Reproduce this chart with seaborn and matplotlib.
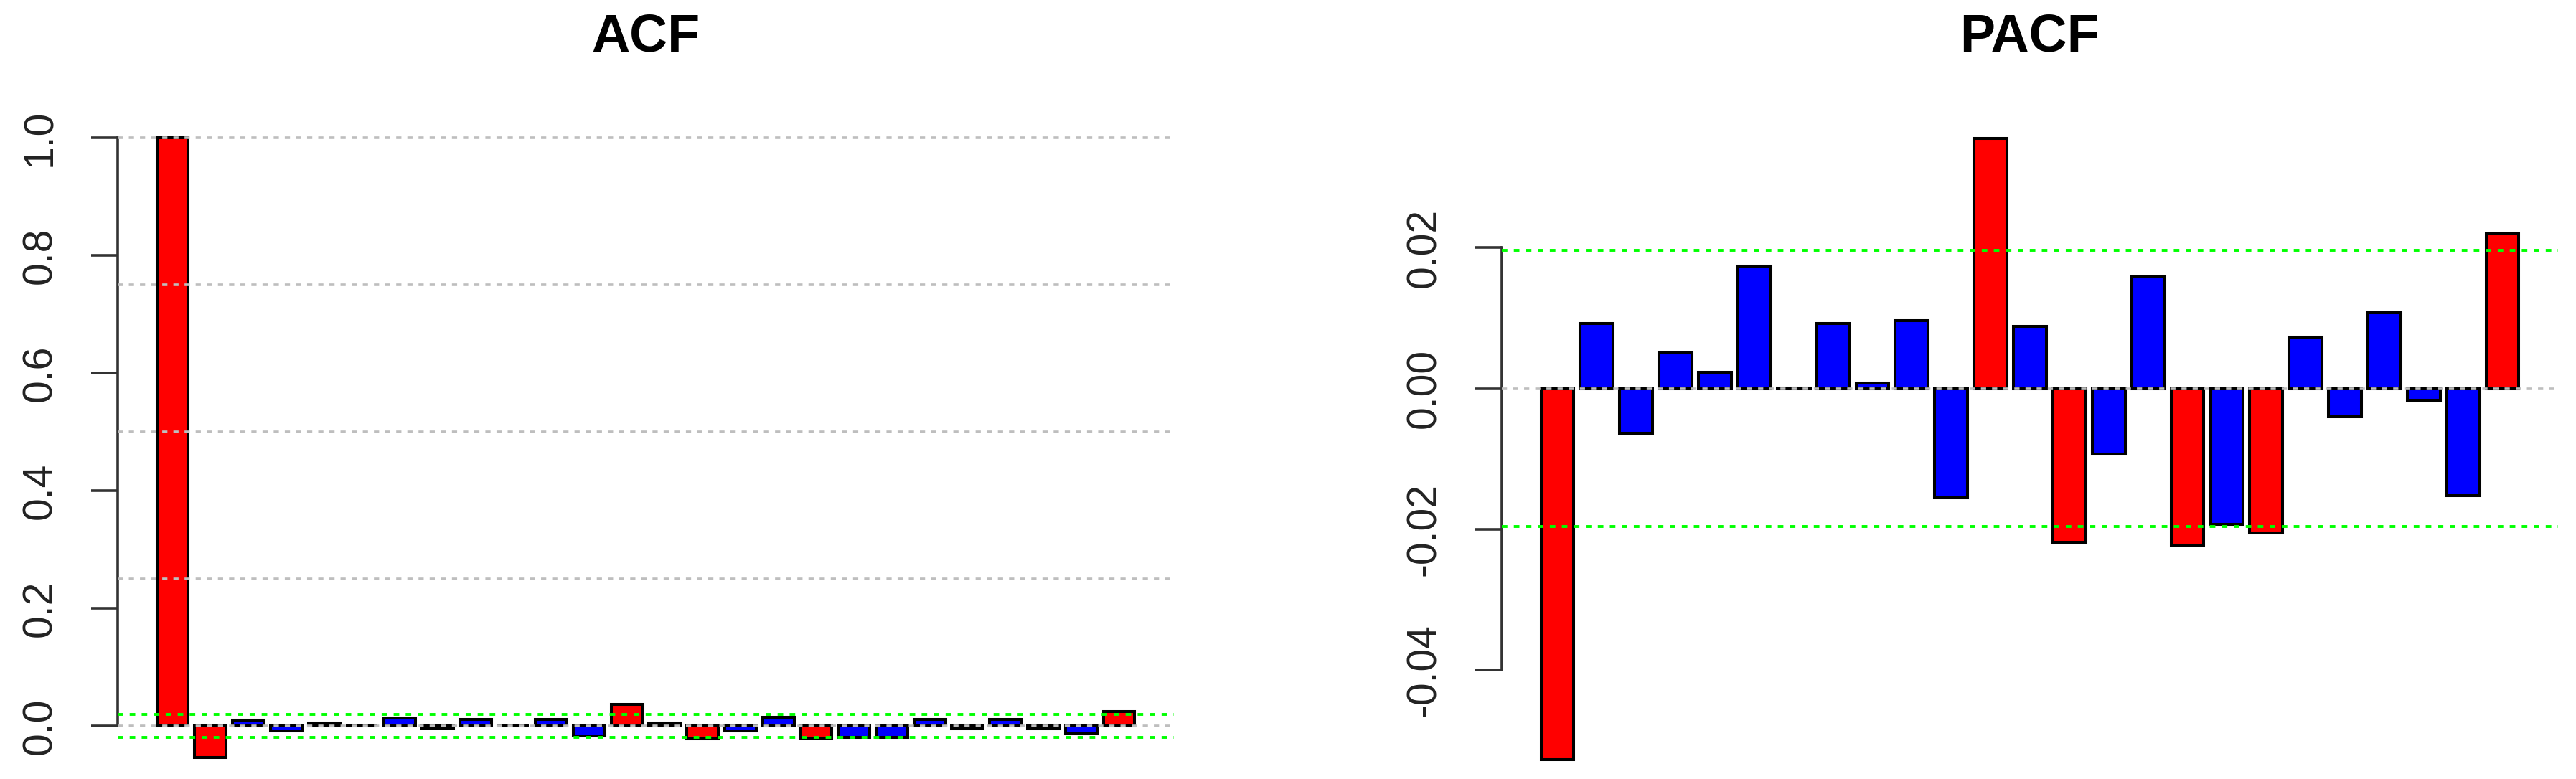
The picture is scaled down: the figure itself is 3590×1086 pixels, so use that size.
import matplotlib
matplotlib.use("Agg")
import matplotlib.pyplot as plt
import seaborn as sns
import numpy as np
import pandas as pd

# autocorrelations (series length ~ 10000)
acf_lags = list(range(0, 26))
acf_values = [1.0, -0.054, 0.010, -0.008, 0.005, 0.0, 0.014, -0.004, 0.011, 0.0,
              0.011, -0.017, 0.037, 0.005, -0.022, -0.009, 0.015, -0.021, -0.019,
              -0.019, 0.011, -0.005, 0.011, -0.005, -0.013, 0.024]

pacf_lags = list(range(1, 26))
pacf_values = [-0.0527, 0.0093, -0.0063, 0.0051, 0.0023, 0.0174, 0.0001, 0.0093,
               0.0008, 0.0097, -0.0155, 0.0355, 0.0088, -0.0218, -0.0093, 0.0159,
               -0.0222, -0.0193, -0.0205, 0.0073, -0.0040, 0.0108, -0.0016,
               -0.0152, 0.0220]

n_obs = 10000
conf = 1.96 / np.sqrt(n_obs)

acf_ticks = [0.0, 0.2, 0.4, 0.6, 0.8, 1.0]
acf_tick_labels = ["0.0", "0.2", "0.4", "0.6", "0.8", "1.0"]
acf_grid = [0.0, 0.25, 0.5, 0.75, 1.0]

pacf_ticks = [-0.04, -0.02, 0.0, 0.02]
pacf_tick_labels = ["-0.04", "-0.02", "0.00", "0.02"]
pacf_grid = [0.0]

W, H = 3590, 1086

sns.set_style("white")
plt.rcParams["font.family"] = ["Liberation Sans", "DejaVu Sans"]

fig = plt.figure(figsize=(W / 100, H / 100), dpi=100)


def draw_panel(left_px, lags, values, ylim, ticks, tick_labels, grid, title):
    plot_w = 1472
    top_px = 158
    ax = fig.add_axes([left_px / W, 0, plot_w / W, (H - top_px) / H])

    df = pd.DataFrame({"lag": lags, "value": values})
    df["sig"] = np.where(np.abs(df["value"]) > conf, "sig", "ns")

    sns.barplot(data=df, x="lag", y="value", hue="sig", order=lags,
                palette={"sig": "#FF0000", "ns": "#0000FF"}, dodge=False,
                width=1 / 1.2, saturation=1, edgecolor="black", linewidth=2.9,
                errorbar=None, legend=False, ax=ax, zorder=2)

    # R barplot style x range: bars of width 1 with space 0.2, 4% padding
    n = len(lags)
    span = 1.2 * n - 0.2
    lo, hi = 0.2 - 0.04 * span, 1.2 * n + 0.04 * span
    ax.set_xlim((lo - 0.7) / 1.2, (hi - 0.7) / 1.2)
    ax.set_ylim(*ylim)

    for g in grid:
        ax.axhline(g, color="#BEBEBE", lw=2.6, ls=(0, (2, 2.3)), zorder=3)
    for c in (conf, -conf):
        ax.axhline(c, color="#00FF00", lw=2.8, ls=(0, (2, 2.3)), zorder=3)

    for s in ("top", "right", "bottom"):
        ax.spines[s].set_visible(False)
    ax.spines["left"].set_bounds(ticks[0], ticks[-1])
    ax.spines["left"].set_color("#333333")
    ax.spines["left"].set_linewidth(2.6)

    ax.set_xticks([])
    ax.set_xlabel("")
    ax.set_ylabel("")
    ax.set_yticks(ticks)
    ax.set_yticklabels(tick_labels)
    ax.tick_params(axis="y", direction="out", length=27, width=2.6,
                   color="#333333", labelsize=41, labelcolor="#222222",
                   pad=31, left=True, labelrotation=90)
    for lab in ax.get_yticklabels():
        lab.set_va("center")
    ax.grid(False)
    ax.set_facecolor("none")

    fig.text((left_px + plot_w / 2) / W, 1 - 52 / H, title, ha="center",
             va="center", fontsize=53, fontweight="bold", color="black")
    return ax


# pixel-based limits so zero lines and ticks land where the original has them
acf_zero, acf_unit = 1012, 820
pacf_zero, pacf_unit = 541.8, 9815
acf_ylim = (-(H - acf_zero) / acf_unit, (acf_zero - 158) / acf_unit)
pacf_ylim = (-(H - pacf_zero) / pacf_unit, (pacf_zero - 158) / pacf_unit)

draw_panel(164, acf_lags, acf_values, acf_ylim, acf_ticks, acf_tick_labels,
           acf_grid, "ACF")
draw_panel(2093, pacf_lags, pacf_values, pacf_ylim, pacf_ticks,
           pacf_tick_labels, pacf_grid, "PACF")

fig.savefig("out.png", dpi=100, facecolor="white")
